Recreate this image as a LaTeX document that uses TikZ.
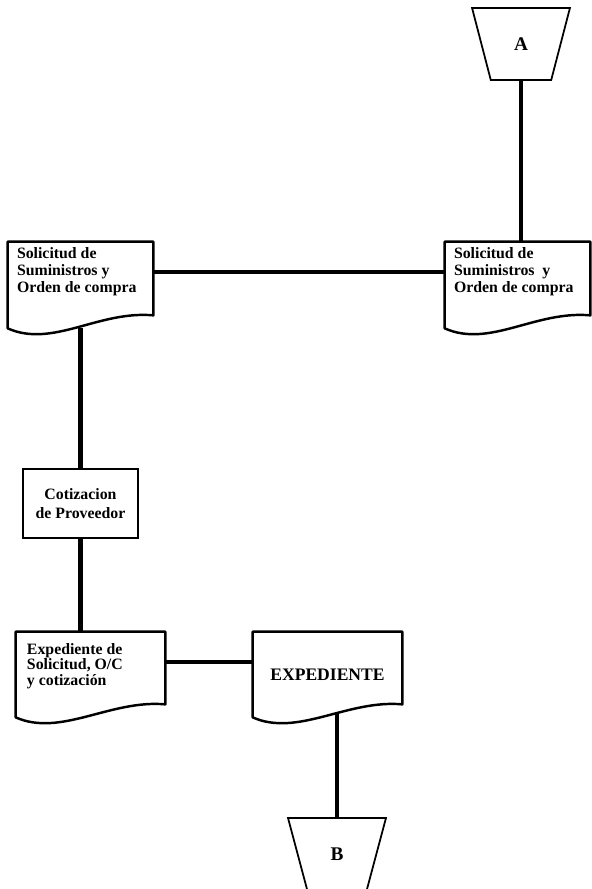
\documentclass[tikz,border=0pt]{standalone}
\usepackage{fontspec}
\setmainfont{Liberation Serif}
\usetikzlibrary{shapes.geometric,calc}
\tikzset{
  docu/.style={rectangle,minimum width=2.9cm,minimum height=1.72cm,inner xsep=1.8mm,inner ysep=0pt,font=\bfseries\fontsize{9}{9.6}\selectfont},
  proc/.style={rectangle,draw,line width=1.4pt,minimum width=2.3cm,minimum height=1.38cm,align=center,font=\bfseries\fontsize{9}{11}\selectfont},
  conn/.style={trapezium,draw,line width=1pt,shape border rotate=180,trapezium left angle=72,trapezium right angle=72,trapezium stretches=true,minimum width=1.96cm,minimum height=1.44cm,font=\bfseries\fontsize{11}{13}\selectfont},
  link/.style={line width=2.3pt},
  docline/.style={line width=1.4pt,line join=round}
}
% text block at the top of a document shape
\newcommand{\doctext}[2]{\parbox[t][#1][t]{2.54cm}{\raggedright #2}}
% document outline with wavy bottom
\newcommand{\docframe}[1]{%
  \draw[docline] (#1.south west) -- (#1.north west) -- (#1.north east)
    -- ([yshift=2.6mm]#1.south east)
    .. controls ([shift={(-1.1,0.36)}]#1.south east) and ([shift={(0.9,-0.4)}]#1.south west) .. (#1.south west) -- cycle;}

\begin{document}
\begin{tikzpicture}
  \useasboundingbox (0,0) rectangle (11.84,-17.78);
  \node[conn] (A) at (10.42,-0.88) {A};
  \node[docu] (solR) at (10.35,-5.70) {\doctext{1.5cm}{Solicitud de\\Suministros\ \ y\\Orden de compra}};
  \node[docu] (solL) at (1.61,-5.70) {\doctext{1.5cm}{Solicitud de\\Suministros y\\Orden de compra}};
  \node[proc] (cotiz) at (1.61,-10.07) {Cotizacion\\de Proveedor};
  \node[docu,minimum width=2.98cm,minimum height=1.70cm,font=\bfseries\fontsize{9}{8.8}\selectfont] (expS) at (1.81,-13.49) {\doctext{1.24cm}{Expediente de\\Solicitud, O/C\\y cotización}};
  \node[docu,minimum width=2.98cm,minimum height=1.70cm,font=\bfseries\fontsize{10}{12}\selectfont] (expX) at (6.55,-13.49) {EXPEDIENTE};
  \node[conn] (B) at (6.74,-17.08) {B};
  \docframe{solR}
  \docframe{solL}
  \docframe{expS}
  \docframe{expX}
  \draw[link] (A.south) -- (A.south |- solR.north);
  \draw[link] ([yshift=2.6mm]solL.east) -- ([yshift=2.6mm]solR.west);
  \draw[link] (solL.south) -- (cotiz.north);
  \draw[link] (cotiz.south) -- (cotiz.south |- expS.north);
  \draw[link] ([yshift=2.5mm]expS.east) -- ([yshift=2.5mm]expX.west);
  \draw[link] ($(B.north |- expX.south)+(0,0.06)$) -- (B.north);
\end{tikzpicture}
\end{document}
